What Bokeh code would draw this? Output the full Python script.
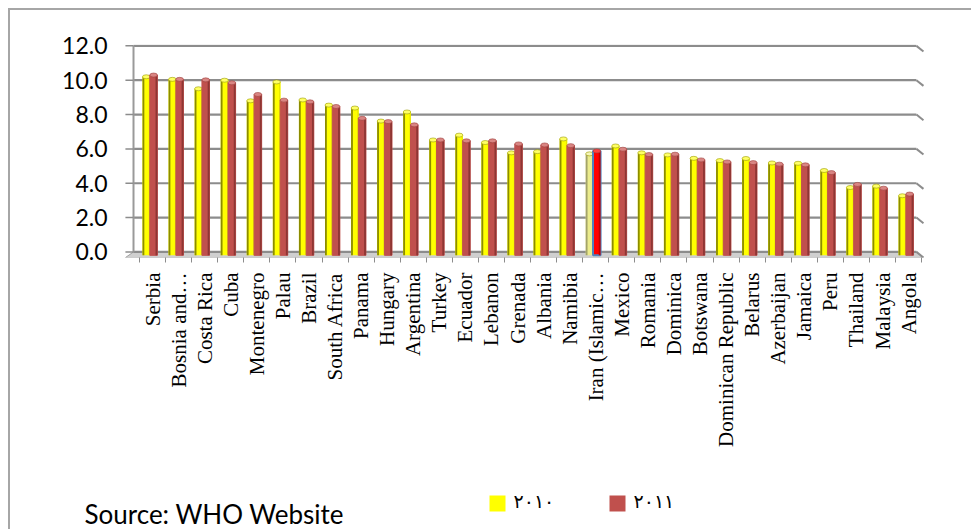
import math
import numpy as np
from bokeh.plotting import figure
from bokeh.layouts import column
from bokeh.models import (ColumnDataSource, Range1d, FixedTicker, InlineStyleSheet,
                          NumeralTickFormatter)
from bokeh.core.properties import value
from bokeh.embed import file_html
from bokeh.resources import INLINE

# ---------------- data ----------------
countries = ["Serbia", "Bosnia and…", "Costa Rica", "Cuba", "Montenegro", "Palau", "Brazil",
             "South Africa", "Panama", "Hungary", "Argentina", "Turkey", "Ecuador", "Lebanon",
             "Grenada", "Albania", "Namibia", "Iran (Islamic…", "Mexico", "Romania", "Dominica",
             "Botswana", "Dominican Republic", "Belarus", "Azerbaijan", "Jamaica", "Peru",
             "Thailand", "Malaysia", "Angola"]
y2010 = [10.2, 10.05, 9.5, 10.0, 8.8, 9.9, 8.85, 8.55, 8.38, 7.62, 8.15, 6.52, 6.8, 6.37,
         5.77, 5.84, 6.58, 5.71, 6.17, 5.77, 5.65, 5.45, 5.32, 5.44, 5.18, 5.16, 4.74, 3.75,
         3.83, 3.27]
y2011 = [10.3, 10.05, 10.02, 9.85, 9.17, 8.84, 8.74, 8.47, 7.78, 7.59, 7.4, 6.52, 6.47, 6.47,
         6.29, 6.23, 6.19, 5.88, 5.98, 5.67, 5.69, 5.36, 5.24, 5.2, 5.11, 5.07, 4.62, 3.93,
         3.71, 3.37]
y_ticks = [0, 2, 4, 6, 8, 10, 12]
legend_labels = ["٢٠١٠", "٢٠١١"]
legend_colors = ["#FFFF00", "#C0504D"]
highlight = "Iran (Islamic…"
source_note = "Source: WHO Website"

# ---------------- geometry / styles ----------------
n = len(countries)
centers = np.arange(n) + 0.5
boundaries = list(range(n + 1))
BAR_W = 0.29
STRIP = 0.07
x10 = centers - 0.24
x11 = centers + 0.04
BASE = -0.2
WALL_L, WALL_R = -0.23, 29.8
FRONT_L, FRONT_R = -0.54, 30.07
FLOOR_Y = -0.33

hl = [c == highlight for c in countries]
src = ColumnDataSource(dict(
    x10=x10, x11=x11, t10=y2010, t11=y2011,
    x10l=x10 - BAR_W / 2 + STRIP / 2,
    x10r=x10 + BAR_W / 2 - STRIP * 0.35,
    x11r=x11 + BAR_W / 2 - STRIP / 2,
    f10=["#EBEB8C" if h else "#FFFF00" for h in hl],
    l10=["#A3A36B" if h else "#8C8C00" for h in hl],
    r10=["#F2F2B0" if h else "#E6E600" for h in hl],
    f11=["#FF0000" if h else "#C0504D" for h in hl],
    r11=["#C00000" if h else "#8E3634" for h in hl],
    o11=["#4F81BD" if h else "#C0504D" for h in hl],
    w11=[2 if h else 1 for h in hl],
    c10=["#F5F5B8" if h else "#FFFF66" for h in hl],
    c11=["#FF4040" if h else "#D98583" for h in hl],
))

# the reference's chart frame runs past the window's right and bottom edges
W = 975
H1 = 471
H2 = 56

p = figure(width=W, height=H1, x_range=Range1d(-0.614, 30.11), y_range=Range1d(-0.326, 12.08),
           output_backend="svg", toolbar_location=None,
           min_border_left=113, min_border_right=W - 914, min_border_top=34,
           min_border_bottom=H1 - 247)
p.frame_align = False
p.xgrid.visible = False
p.ygrid.visible = False
p.outline_line_color = None
p.background_fill_color = "white"
p.border_fill_color = "white"

# floor
p.patch([WALL_L, WALL_R, FRONT_R, FRONT_L], [0, 0, FLOOR_Y, FLOOR_Y],
        fill_color="#CFCFCF", line_color="#A0A0A0", line_width=1)
# back-wall gridlines + right diagonal
gy = [float(v) for v in y_ticks]
p.segment(x0=[WALL_L] * len(gy), y0=gy, x1=[WALL_R] * len(gy), y1=gy,
          line_color="#8C8C8C", line_width=2.2)
p.segment(x0=[WALL_R] * len(gy), y0=gy, x1=[FRONT_R] * len(gy), y1=[v + FLOOR_Y for v in gy],
          line_color="#8C8C8C", line_width=2)
# back wall left edge and y tick marks
p.segment(x0=[WALL_L], y0=[0], x1=[WALL_L], y1=[max(gy)], line_color="#9A9A9A", line_width=2)
p.segment(x0=[FRONT_L] * len(gy), y0=gy, x1=[WALL_L] * len(gy), y1=gy,
          line_color="#8C8C8C", line_width=1.5)

# 2010 bars (yellow cylinders)
p.vbar(x="x10", top="t10", bottom=BASE, width=BAR_W, source=src,
       fill_color="f10", line_color=None)
p.vbar(x="x10l", top="t10", bottom=BASE, width=STRIP, source=src,
       fill_color="l10", line_color=None)
p.vbar(x="x10r", top="t10", bottom=BASE, width=STRIP * 0.7, source=src,
       fill_color="r10", line_color=None)
p.ellipse(x="x10", y="t10", width=BAR_W, height=4, height_units="screen", source=src,
          fill_color="c10", line_color="#9A9A00", line_width=0.6)

# 2011 bars (red cylinders)
p.vbar(x="x11", top="t11", bottom=BASE, width=BAR_W, source=src,
       fill_color="f11", line_color="o11", line_width="w11")
p.vbar(x="x11r", top="t11", bottom=BASE, width=STRIP, source=src,
       fill_color="r11", line_color=None)
p.ellipse(x="x11", y="t11", width=BAR_W, height=4, height_units="screen", source=src,
          fill_color="c11", line_color="#9E3E3B", line_width=0.6)

# y axis
ya = p.yaxis[0]
ya.ticker = FixedTicker(ticks=y_ticks)
ya.formatter = NumeralTickFormatter(format="0.0")
ya.axis_line_color = None
ya.major_tick_line_color = None
ya.minor_tick_line_color = None
ya.major_tick_out = 0
ya.major_tick_in = 0
ya.major_label_standoff = 16
ya.major_label_text_font = "Lato"
ya.major_label_text_font_size = "23px"
ya.major_label_text_color = "black"

# x axis (labels at centers, tick marks at boundaries)
xa = p.xaxis[0]
xa.ticker = FixedTicker(ticks=[float(c) for c in centers], minor_ticks=boundaries)
xa.major_label_overrides = {float(c): name for c, name in zip(centers, countries)}
xa.major_label_orientation = math.pi / 2
xa.axis_line_color = None
xa.major_tick_line_color = None
xa.major_tick_out = 5
xa.major_tick_in = 0
xa.minor_tick_line_color = "#8C8C8C"
xa.minor_tick_out = 5
xa.minor_tick_in = 0
xa.major_label_standoff = 10
xa.major_label_text_font = "Liberation Serif"
xa.major_label_text_font_size = "21px"
xa.major_label_text_color = "black"

# ---------------- bottom strip: legend + source note ----------------
q = figure(width=W, height=H2, x_range=Range1d(0, W), y_range=Range1d(0, H2),
           output_backend="svg", toolbar_location=None, min_border=0,
           x_axis_location=None, y_axis_location=None)
q.frame_align = False
q.xgrid.visible = False
q.ygrid.visible = False
q.outline_line_color = None
q.background_fill_color = "white"
q.border_fill_color = "white"

leg_x = [479, 599]
q.quad(left=leg_x, right=[v + 16 for v in leg_x], bottom=[26, 26], top=[42, 42],
       fill_color=legend_colors, line_color=None)
q.text(x=[v + 24 for v in leg_x], y=[37, 37], text=legend_labels,
       text_font=value("DejaVu Sans"), text_font_size="19px", text_color="black",
       text_baseline="alphabetic", text_align="left")
q.text(x=[74], y=[24], text=[source_note], text_font=value("Lato"), text_font_size="26px",
       text_color="black", text_baseline="alphabetic", text_align="left")

layout = column(p, q, spacing=0)
layout.margin = (10, 0, 0, 10)
layout.stylesheets = [InlineStyleSheet(
    css=":host { box-shadow: -2px -2px 0 0 #A6A6A6; }")]

html = file_html(layout, INLINE)
html = html.replace("</head>", "<style>html, body { overflow: hidden; }</style></head>", 1)
open("out.html", "w").write(html)
